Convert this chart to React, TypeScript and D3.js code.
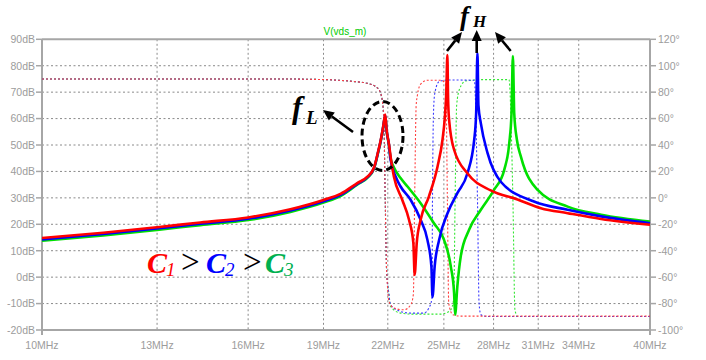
import React from "react";
import * as d3 from "d3";

const xTicks = [10, 13, 16, 19, 22, 25, 28, 31, 34, 40];
const xTickLabels = ["10MHz", "13MHz", "16MHz", "19MHz", "22MHz", "25MHz", "28MHz", "31MHz", "34MHz", "40MHz"];
const dbTicks = [90, 80, 70, 60, 50, 40, 30, 20, 10, 0, -10, -20];
const dbTickLabels = ["90dB", "80dB", "70dB", "60dB", "50dB", "40dB", "30dB", "20dB", "10dB", "0dB", "-10dB", "-20dB"];
const degTicks = [120, 100, 80, 60, 40, 20, 0, -20, -40, -60, -80, -100];
const degTickLabels = ["120°", "100°", "80°", "60°", "40°", "20°", "0°", "-20°", "-40°", "-60°", "-80°", "-100°"];

const titleText = "V(vds_m)";

// magnitude (MHz, dB)
const magC1: [number, number][] = [
  [10, 14.8], [11.5, 16.8], [13, 18.9], [14.35, 20.7], [16, 22.6], [17.62, 25.7], [19, 29.2], [19.75, 31.5],
  [20.52, 35.6], [21.0, 38], [21.32, 41.5], [21.54, 48.2], [21.65, 51.9], [21.77, 57], [21.87, 61.5], [21.94, 55.7],
  [22.05, 50.7], [22.19, 43.1], [22.31, 38], [22.74, 29.2], [23.09, 21.7], [23.32, 12.9], [23.39, 0.9], [23.5, 12.9],
  [23.71, 21.7], [24.16, 30.5], [24.64, 41.8], [24.92, 51.9], [25.05, 60], [25.14, 70], [25.2, 84], [25.24, 68],
  [25.3, 59.5], [25.59, 48.2], [26.38, 39.3], [27.82, 32.8], [29.57, 29.4], [31.19, 26.1], [33.15, 24.2],
  [35.78, 22], [40, 19.8],
];
const magC2: [number, number][] = [
  [10, 14.3], [11.5, 16.3], [13, 18.4], [14.35, 20.2], [16, 22.1], [17.62, 25.2], [19, 28.7], [19.75, 31.1],
  [20.52, 35.3], [21.0, 37.8], [21.32, 41.3], [21.54, 48], [21.65, 51.7], [21.77, 56.8], [21.87, 61.2], [21.94, 55.5],
  [22.05, 50.5], [22.14, 44.5], [22.4, 38], [22.65, 34.3], [23.18, 29.2], [23.71, 21.7], [24.08, 14.1], [24.3, 4],
  [24.36, -7.5], [24.48, 4], [24.73, 14.1], [25.21, 24.2], [25.78, 31.8], [26.38, 39.3], [26.79, 51.9], [26.91, 62],
  [26.99, 84.8], [27.05, 65], [27.2, 58.2], [27.62, 46.9], [28.48, 36], [30.7, 28.6], [33.15, 25.5], [35.78, 23],
  [40, 20.4],
];
const magC3: [number, number][] = [
  [10, 13.8], [11.5, 15.8], [13, 17.9], [14.35, 19.7], [16, 21.6], [17.62, 24.7], [19, 28.2], [19.75, 30.7],
  [20.52, 35.0], [21.0, 37.6], [21.32, 41.1], [21.54, 47.8], [21.65, 51.5], [21.77, 56.6], [21.87, 61], [21.94, 55.3],
  [22.05, 50.3], [22.14, 45], [22.31, 41.5], [22.65, 37.5], [23.01, 34.3], [23.71, 28], [24.44, 20.4], [25.01, 14.1],
  [25.4, 4], [25.59, -6], [25.65, -14.2], [25.78, -3.5], [25.98, 7.8], [26.48, 17.9], [27.2, 25.5], [28.03, 33],
  [28.69, 40.6], [29.02, 50.7], [29.17, 62], [29.26, 83.7], [29.35, 62], [29.53, 52], [29.8, 45.6], [30.96, 33],
  [33.15, 26.7], [35.78, 23.6], [40, 21],
];

// phase (MHz, degrees)
const phaseC1: [number, number][] = [
  [10, 90], [17, 90], [19, 89.5], [20.4, 88], [21, 86.7], [21.5, 83], [21.69, 76.6], [21.8, 60], [21.87, 0],
  [21.94, -55], [21.98, -66], [22.05, -78], [22.31, -83.4], [22.83, -84.7], [23.18, -81], [23.32, -73], [23.39, 0],
  [23.47, 70], [23.54, 78], [23.71, 86], [24.08, 89], [24.82, 89], [25.11, 86], [25.2, 0], [25.28, -80],
  [25.52, -88.5], [25.98, -89.5], [40, -89.5],
];
const phaseC2: [number, number][] = [
  [10, 90], [17, 90], [19, 89.5], [20.4, 88], [21, 86.7], [21.5, 83], [21.69, 76.6], [21.8, 60], [21.87, 0],
  [21.94, -55], [22.05, -72], [22.14, -81], [22.65, -86], [23.18, -87.2], [23.89, -87.2], [24.16, -83.4],
  [24.33, -76], [24.36, 0], [24.43, 70], [24.5, 80], [24.73, 88], [25.21, 89.2], [26.8, 89], [26.99, 0],
  [27.09, -80], [27.2, -88.4], [27.6, -89.8], [40, -89.8],
];
const phaseC3: [number, number][] = [
  [10, 90], [17, 90], [19, 89.5], [20.4, 88], [21, 86.7], [21.5, 83], [21.69, 76.6], [21.8, 60], [21.87, 0],
  [21.94, -55], [22.05, -72], [22.14, -82.2], [22.65, -87.2], [23.3, -88], [24.82, -88], [25.1, -87.2],
  [25.4, -84.7], [25.57, -76], [25.65, 0], [25.74, 70], [25.9, 82], [26.28, 88.5], [27.5, 89.5], [29.0, 89.5],
  [29.26, 0], [29.4, -85], [29.59, -89.8], [40, -89.8],
];

const W = 706;
const H = 360;
const L = 42;
const R = 650;
const T = 39.3;
const B = 330;

const axisGray = "#a6a6a6";
const textGray = "#9c9c9c";
const gridGray = "#8a8a8a";

export default function App() {
  const x = d3.scaleLog().domain([10, 40]).range([L, R]);
  const yDb = d3.scaleLinear().domain([-20, 90]).range([B, T]);
  const yDeg = d3.scaleLinear().domain([-100, 120]).range([B, T]);

  const magLine = d3
    .line<[number, number]>()
    .x((d) => x(d[0]))
    .y((d) => yDb(d[1]))
    .curve(d3.curveMonotoneX);
  const phLine = d3
    .line<[number, number]>()
    .x((d) => x(d[0]))
    .y((d) => yDeg(d[1]))
    .curve(d3.curveMonotoneX);

  const mags = [
    { d: magC3, c: "#00e000" },
    { d: magC2, c: "#0000ff" },
    { d: magC1, c: "#ff0000" },
  ];
  const phases = [
    { d: phaseC3, c: "#33e633" },
    { d: phaseC2, c: "#3a3aff" },
    { d: phaseC1, c: "#ff4040" },
  ];

  const serif = "'Liberation Serif', 'DejaVu Serif', serif";
  const sans = "'Liberation Sans', Arial, sans-serif";

  const arrow = (x1: number, y1: number, x2: number, y2: number, key: string) => {
    const ang = Math.atan2(y2 - y1, x2 - x1);
    const len = 11;
    const half = 5;
    const bx = x2 - len * Math.cos(ang);
    const by = y2 - len * Math.sin(ang);
    const px = -Math.sin(ang) * half;
    const py = Math.cos(ang) * half;
    return (
      <g key={key}>
        <line x1={x1} y1={y1} x2={bx} y2={by} stroke="#000" strokeWidth={2.6} />
        <polygon points={`${x2},${y2} ${bx + px},${by + py} ${bx - px},${by - py}`} fill="#000" />
      </g>
    );
  };

  return (
    <svg
      width={W}
      height={H}
      style={{ position: "absolute", left: 0, top: 0, background: "#fff" }}
      xmlns="http://www.w3.org/2000/svg"
    >
      <rect x={0} y={0} width={W} height={H} fill="#fff" />
      {/* grid */}
      {dbTicks.slice(1, -1).map((t) => (
        <line key={"hg" + t} x1={L} x2={R} y1={yDb(t)} y2={yDb(t)} stroke={gridGray} strokeWidth={1} strokeDasharray="2,2.5" />
      ))}
      {xTicks.slice(1, -1).map((t) => (
        <line key={"vg" + t} x1={x(t)} x2={x(t)} y1={T} y2={B} stroke={gridGray} strokeWidth={1} strokeDasharray="2,2.5" />
      ))}
      {/* frame */}
      <line x1={L} x2={R} y1={T} y2={T} stroke={axisGray} strokeWidth={2} />
      <line x1={L} x2={R} y1={B} y2={B} stroke={axisGray} strokeWidth={2} />
      <line x1={L} x2={L} y1={T} y2={B + 5} stroke={axisGray} strokeWidth={2} />
      <line x1={R} x2={R} y1={T} y2={B + 5} stroke={axisGray} strokeWidth={2} />
      {dbTicks.map((t) => (
        <line key={"lt" + t} x1={L - 6} x2={L} y1={yDb(t)} y2={yDb(t)} stroke={axisGray} strokeWidth={1.5} />
      ))}
      {degTicks.map((t) => (
        <line key={"rt" + t} x1={R} x2={R + 6} y1={yDeg(t)} y2={yDeg(t)} stroke={axisGray} strokeWidth={1.5} />
      ))}
      {/* tick labels */}
      {dbTicks.map((t, i) => (
        <text key={"ll" + t} x={L - 7} y={yDb(t) + 3.8} textAnchor="end" fontFamily={sans} fontSize={10.5} fill={textGray}>
          {dbTickLabels[i]}
        </text>
      ))}
      {degTicks.map((t, i) => (
        <text key={"rl" + t} x={R + 8} y={yDeg(t) + 3.8} textAnchor="start" fontFamily={sans} fontSize={10.5} fill={textGray}>
          {degTickLabels[i]}
        </text>
      ))}
      {xTicks.map((t, i) => (
        <text key={"xl" + t} x={x(t)} y={349} textAnchor="middle" fontFamily={sans} fontSize={10.5} fill={textGray}>
          {xTickLabels[i]}
        </text>
      ))}
      <text x={345} y={35} textAnchor="middle" fontFamily={sans} fontSize={10} fill="#00cc00">
        {titleText}
      </text>
      {/* phase (dotted) */}
      {phases.map((p, i) => (
        <path key={"ph" + i} d={phLine(p.d) || ""} fill="none" stroke={p.c} strokeWidth={1.1} strokeDasharray="2,2" />
      ))}
      {/* magnitude */}
      {mags.map((m, i) => (
        <path key={"mg" + i} d={magLine(m.d) || ""} fill="none" stroke={m.c} strokeWidth={2.6} strokeLinejoin="round" />
      ))}
      {/* fL annotation */}
      <ellipse cx={382.5} cy={136} rx={20.5} ry={34.5} fill="none" stroke="#000" strokeWidth={3} strokeDasharray="7,4" />
      {arrow(353, 132, 323, 110, "aL")}
      <text x={292} y={118} fontFamily={serif} fontStyle="italic" fontWeight="bold" fontSize={31} fill="#000">f</text>
      <text x={306} y={124} fontFamily={serif} fontStyle="italic" fontWeight="bold" fontSize={19} fill="#000">L</text>
      {/* fH annotation */}
      <text x={460} y={25} fontFamily={serif} fontStyle="italic" fontWeight="bold" fontSize={27} fill="#000">f</text>
      <text x={473} y={27} fontFamily={serif} fontStyle="italic" fontWeight="bold" fontSize={17} fill="#000">H</text>
      {arrow(447, 51, 462, 32, "aH1")}
      {arrow(476.7, 53, 476.7, 30, "aH2")}
      {arrow(510.7, 51, 495, 32, "aH3")}
      {/* legend */}
      <text x={147} y={273} fontFamily={serif} fontStyle="italic" fontWeight="bold" fontSize={30} fill="#ff0000">C</text>
      <text x={166} y={276} fontFamily={serif} fontStyle="italic" fontSize={19} fill="#ff0000">1</text>
      <text x={181} y={273} fontFamily={serif} fontSize={33} fill="#000">&gt;</text>
      <text x={206} y={273} fontFamily={serif} fontStyle="italic" fontWeight="bold" fontSize={30} fill="#0000ff">C</text>
      <text x={225} y={276} fontFamily={serif} fontStyle="italic" fontSize={19} fill="#0000ff">2</text>
      <text x={243} y={273} fontFamily={serif} fontSize={33} fill="#000">&gt;</text>
      <text x={265} y={273} fontFamily={serif} fontStyle="italic" fontWeight="bold" fontSize={30} fill="#00b050">C</text>
      <text x={284} y={276} fontFamily={serif} fontStyle="italic" fontSize={19} fill="#00b050">3</text>
    </svg>
  );
}
